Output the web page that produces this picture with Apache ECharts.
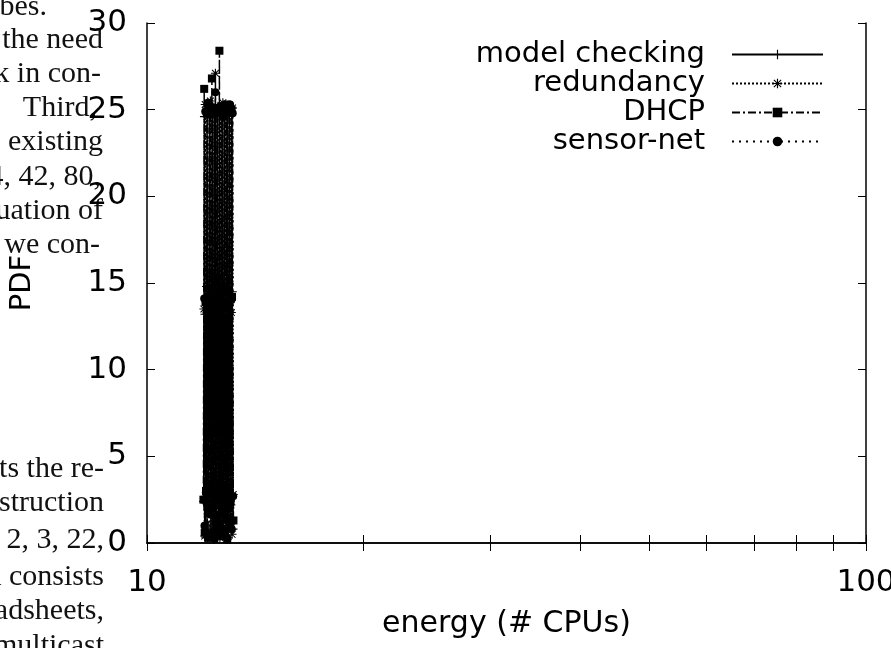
<!DOCTYPE html>
<html>
<head>
<meta charset="utf-8">
<script src="https://cdn.jsdelivr.net/npm/echarts@6/dist/echarts.min.js"></script>
<style>
  body { margin: 0; background: #fff; }
  #chart { width: 891px; height: 648px; }
</style>
</head>
<body>
<div id="chart"></div>
<script>
// series values (x = energy, y = PDF)
const mcX = [11.99, 12.02, 12.04, 12.07, 12.09, 12.12, 12.14, 12.17, 12.19, 12.22, 12.24, 12.27, 12.29, 12.32, 12.34, 12.37, 12.39, 12.42, 12.44, 12.47, 12.49, 12.52, 12.54, 12.57, 12.59, 12.62, 12.64, 12.67, 12.69, 12.72, 12.74, 12.77, 12.79, 12.82, 12.84, 12.87, 12.89, 12.92, 12.94, 12.97, 12.99, 13.02, 13.04, 13.07, 13.09, 13.12, 13.14, 13.17]
const mcY = [2.4, 24.6, 13.2, 0.3, 2.9, 25.1, 14.0, 1.8, 3.2, 24.9, 13.6, 0.6, 2.1, 25.3, 12.9, 0.2, 2.7, 24.8, 14.3, 1.4, 3.0, 25.0, 13.1, 0.9, 2.2, 24.7, 14.6, 0.4, 2.8, 25.2, 13.8, 1.5, 3.3, 24.9, 12.7, 0.7, 2.5, 25.0, 14.1, 0.3, 1.9, 24.8, 13.4, 1.1, 2.6, 25.1, 14.5, 0.8]
const rdX = [12.00, 12.03, 12.05, 12.08, 12.10, 12.13, 12.15, 12.18, 12.20, 12.23, 12.25, 12.28, 12.30, 12.33, 12.35, 12.38, 12.40, 12.43, 12.45, 12.48, 12.50, 12.53, 12.55, 12.58, 12.60, 12.63, 12.65, 12.68, 12.70, 12.73, 12.75, 12.78, 12.80, 12.83, 12.85, 12.88, 12.90, 12.93, 12.95, 12.98, 13.00, 13.03, 13.05, 13.08, 13.10, 13.13, 13.15, 13.18]
const rdY = [13.5, 0.4, 25.3, 2.7, 14.8, 1.1, 24.6, 3.1, 13.0, 0.2, 25.5, 2.3, 15.2, 0.7, 24.9, 1.8, 14.2, 0.5, 27.1, 2.9, 13.7, 1.2, 25.2, 2.4, 15.3, 0.3, 24.8, 3.2, 12.8, 0.9, 25.4, 2.0, 14.9, 0.6, 24.7, 2.6, 13.1, 0.2, 25.0, 3.0, 14.4, 1.0, 24.9, 2.2, 13.3, 0.5, 25.1, 2.8]
const dhX = [11.98, 12.01, 12.03, 12.06, 12.08, 12.11, 12.13, 12.16, 12.18, 12.21, 12.23, 12.26, 12.28, 12.31, 12.33, 12.36, 12.38, 12.41, 12.43, 12.46, 12.48, 12.51, 12.53, 12.56, 12.58, 12.61, 12.63, 12.66, 12.68, 12.71, 12.73, 12.76, 12.78, 12.81, 12.83, 12.86, 12.88, 12.91, 12.93, 12.96, 12.98, 13.01, 13.03, 13.06, 13.08, 13.11, 13.13, 13.19]
const dhY = [2.5, 26.2, 0.6, 13.9, 3.0, 24.8, 2.1, 0.3, 2.8, 25.2, 14.4, 1.7, 2.3, 26.8, 0.5, 13.3, 3.1, 24.9, 2.6, 0.8, 1.6, 25.1, 14.0, 2.9, 2.2, 28.4, 0.4, 13.6, 3.3, 25.0, 1.9, 0.7, 2.7, 24.6, 14.7, 1.4, 2.4, 25.3, 0.2, 13.0, 3.2, 24.9, 2.0, 0.9, 2.6, 25.0, 14.2, 1.3]
const snX = [12.01, 12.02, 12.05, 12.07, 12.10, 12.12, 12.15, 12.17, 12.20, 12.22, 12.25, 12.27, 12.30, 12.32, 12.35, 12.37, 12.40, 12.42, 12.45, 12.47, 12.50, 12.52, 12.55, 12.57, 12.60, 12.62, 12.65, 12.67, 12.70, 12.72, 12.75, 12.77, 12.80, 12.82, 12.85, 12.87, 12.90, 12.92, 12.95, 12.97, 13.00, 13.02, 13.05, 13.07, 13.10, 13.12, 13.16, 13.18]
const snY = [14.1, 1.0, 24.9, 2.4, 13.3, 0.4, 25.4, 3.1, 14.6, 1.9, 24.7, 2.2, 12.7, 0.6, 25.0, 2.8, 13.9, 0.2, 26.0, 1.3, 15.0, 2.5, 24.8, 0.7, 13.4, 1.1, 25.2, 3.0, 14.3, 0.5, 24.6, 2.6, 12.9, 1.6, 25.1, 2.1, 14.8, 0.3, 24.9, 3.2, 13.6, 1.4, 25.3, 2.3, 14.0, 0.8, 24.8, 2.7]

const seriesNames = ['model checking', 'redundancy', 'DHCP', 'sensor-net']
const xTicks = [10, 20, 30, 40, 50, 60, 70, 80, 90, 100]
const xLabels = [10, 100]

// the page text the figure sits on, cut off at the left
const pageLines = [
  ['is probes.', 47, 7],
  ['the need', 103, 40],
  ['work in con-', 101, 74],
  ['Third,', 97, 108],
  ['existing', 103, 142],
  ['[34, 42, 80,', 101, 177],
  ['evaluation of', 103, 211],
  ['we con-', 100, 245],
  ['presents the re-', 104, 469],
  ['reconstruction', 104, 503],
  ['[1, 2, 3, 22,', 104, 540],
  ['which consists', 104, 577],
  ['spreadsheets,', 104, 611],
  ['multicast', 104, 646]
]

const plus = 'path://M4.4,0H5.6V10H4.4Z M0,4.4H10V5.6H0Z'
const star = 'path://M4.4,0H5.6V10H4.4Z M0,4.4H10V5.6H0Z M0.8,1.6L1.6,0.8L9.2,8.4L8.4,9.2Z M8.4,0.8L9.2,1.6L1.6,9.2L0.8,8.4Z'

const font = 'DejaVu Sans'

function pairs (xs, ys) {
  return xs.map((x, i) => [x, ys[i]])
}

function lineSeries (name, xs, ys, symbol, size, dash) {
  return {
    type: 'line',
    name: name,
    data: pairs(xs, ys),
    symbol: symbol,
    symbolSize: size,
    showAllSymbol: true,
    animation: false,
    itemStyle: { color: '#000', borderWidth: 0 },
    lineStyle: { color: '#000', width: 1.5, type: dash },
    z: 3
  }
}

const tickStyle = { show: true, inside: true, length: 8, lineStyle: { color: '#000', width: 1 } }
const lineStyle = { show: true, lineStyle: { color: '#000', width: 1.5 } }

let chart = echarts.init(document.getElementById('chart'))
chart.setOption({
  backgroundColor: '#fff',
  animation: false,
  textStyle: { fontFamily: font },
  grid: { left: 147, right: 25, top: 23, bottom: 105, containLabel: false, outerBoundsMode: 'none' },
  legend: {
    orient: 'vertical',
    right: 62,
    top: 35,
    align: 'right',
    itemWidth: 91,
    itemHeight: 12,
    itemGap: 0,
    selectedMode: false,
    data: seriesNames,
    textStyle: { fontFamily: font, fontSize: 29, lineHeight: 29, color: '#000', padding: [0, 22, 0, 0] }
  },
  xAxis: [
    {
      type: 'log',
      logBase: 10,
      min: 10,
      max: 100,
      position: 'bottom',
      name: 'energy (# CPUs)',
      nameLocation: 'middle',
      nameGap: 66,
      nameTextStyle: { fontFamily: font, fontSize: 30, color: '#000' },
      axisLine: lineStyle,
      axisTick: Object.assign({ customValues: xTicks }, tickStyle),
      axisLabel: { customValues: xLabels, margin: 24, fontSize: 31, color: '#000', fontFamily: font },
      splitLine: { show: false },
      minorTick: { show: false }
    },
    {
      type: 'log',
      logBase: 10,
      min: 10,
      max: 100,
      position: 'top',
      axisLine: lineStyle,
      axisTick: Object.assign({ customValues: xTicks }, tickStyle),
      axisLabel: { show: false },
      splitLine: { show: false }
    }
  ],
  yAxis: [
    {
      type: 'value',
      min: 0,
      max: 30,
      interval: 5,
      position: 'left',
      name: 'PDF',
      nameLocation: 'middle',
      nameRotate: 90,
      nameGap: 110,
      nameTextStyle: { fontFamily: font, fontSize: 29, color: '#000' },
      axisLine: lineStyle,
      axisTick: tickStyle,
      axisLabel: { margin: 20, fontSize: 31, color: '#000', fontFamily: font },
      splitLine: { show: false }
    },
    {
      type: 'value',
      min: 0,
      max: 30,
      interval: 5,
      position: 'right',
      axisLine: lineStyle,
      axisTick: tickStyle,
      axisLabel: { show: false },
      splitLine: { show: false }
    }
  ],
  graphic: pageLines.map(l => ({
    type: 'text',
    x: l[1],
    y: l[2],
    z: -10,
    silent: true,
    style: {
      text: l[0],
      align: 'right',
      verticalAlign: 'middle',
      font: '30px "Liberation Serif"',
      fill: '#111'
    }
  })),
  series: [
    lineSeries(seriesNames[0], mcX, mcY, plus, 9, 'solid'),
    lineSeries(seriesNames[1], rdX, rdY, star, 9, [2, 2]),
    lineSeries(seriesNames[2], dhX, dhY, 'rect', 8, [8, 3, 2, 3]),
    lineSeries(seriesNames[3], snX, snY, 'circle', 8, [2, 5])
  ]
})
</script>
</body>
</html>
